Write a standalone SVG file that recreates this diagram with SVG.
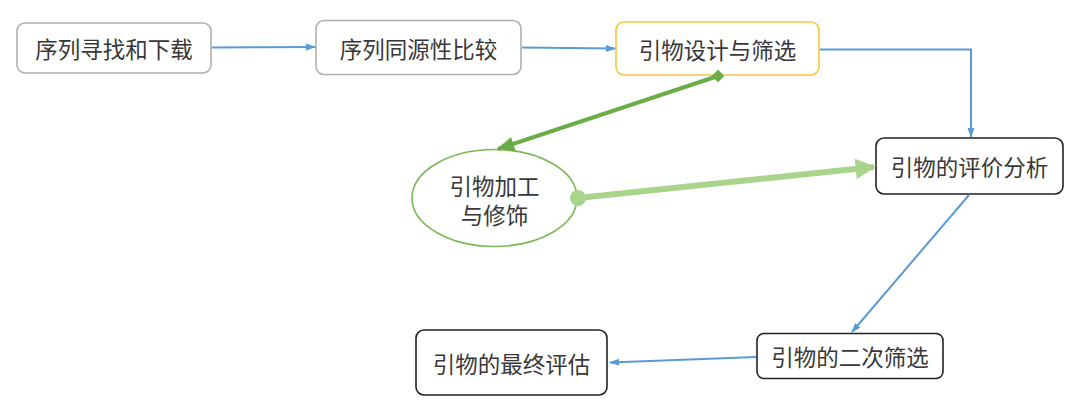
<svg xmlns="http://www.w3.org/2000/svg" width="1080" height="411" viewBox="0 0 1080 411">
<style>
text{font-family:"Noto Sans CJK SC","Liberation Sans",sans-serif;font-size:22.5px;fill:#383838;text-anchor:middle;dominant-baseline:central}
.box{fill:#fff;stroke-width:1.6}
.gray{stroke:#b0b0b0}
.yel{stroke:#f7c343}
.blk{stroke:#222}
.blue{fill:none;stroke:#5b9bd5;stroke-width:2}
</style>
<defs>
<marker id="ab" viewBox="0 0 10 10" refX="9" refY="5" markerWidth="5" markerHeight="5" markerUnits="strokeWidth" orient="auto"><path d="M0,1.5L10,5L0,8.5z" fill="#5b9bd5"/></marker>
<marker id="ag" viewBox="0 0 10 10" refX="9" refY="5" markerWidth="4.5" markerHeight="4.5" markerUnits="strokeWidth" orient="auto"><path d="M0,1L10,5L0,9z" fill="#6aac46"/></marker>
<marker id="al" viewBox="0 0 10 10" refX="9" refY="5" markerWidth="4" markerHeight="3.4" markerUnits="strokeWidth" orient="auto"><path d="M0,0L10,5L0,10z" fill="#a9d48b"/></marker>
</defs>
<rect width="1080" height="411" fill="#fff"/>
<g id="n1"><rect class="box gray" x="17" y="23" width="194" height="50" rx="8"/><text x="114" y="48">序列寻找和下载</text></g>
<g id="n2"><rect class="box gray" x="316" y="20.5" width="205" height="54" rx="8"/><text x="418.5" y="47.5">序列同源性比较</text></g>
<g id="n3"><rect class="box yel" x="616" y="22" width="203" height="53" rx="8"/><text x="717.5" y="48.5">引物设计与筛选</text></g>
<g id="n4"><rect class="box blk" x="876" y="138" width="187" height="56" rx="8"/><text x="969.5" y="166">引物的评价分析</text></g>
<g id="n5"><ellipse cx="494.5" cy="198" rx="82.5" ry="48.5" fill="#fff" stroke="#7ab856" stroke-width="1.6"/><text x="494.5" y="185">引物加工</text><text x="494.5" y="214">与修饰</text></g>
<g id="n6"><rect class="box blk" x="757" y="333.5" width="186" height="45" rx="7"/><text x="850" y="356">引物的二次筛选</text></g>
<g id="n7"><rect class="box blk" x="416" y="330" width="191" height="65" rx="8"/><text x="511.5" y="362.5">引物的最终评估</text></g>
<g id="connectors">
<path class="blue" d="M212,47.5L315,47" marker-end="url(#ab)"/>
<path class="blue" d="M522,47.5L615,48.5" marker-end="url(#ab)"/>
<path class="blue" d="M820,49.5H971V137" marker-end="url(#ab)"/>
<path class="blue" d="M969,195L852,332" marker-end="url(#ab)"/>
<path class="blue" d="M756,357L610,362.5" marker-end="url(#ab)"/>
<path d="M718,76L498,149" fill="none" stroke="#6aac46" stroke-width="4" marker-end="url(#ag)"/>
<rect x="713.5" y="71.5" width="9" height="9" fill="#6aac46" transform="rotate(45 718 76)"/>
<path d="M578,198L874,167" fill="none" stroke="#a9d48b" stroke-width="6" marker-end="url(#al)"/>
<circle cx="578" cy="198" r="8" fill="#a9d48b"/>
</g>
</svg>
